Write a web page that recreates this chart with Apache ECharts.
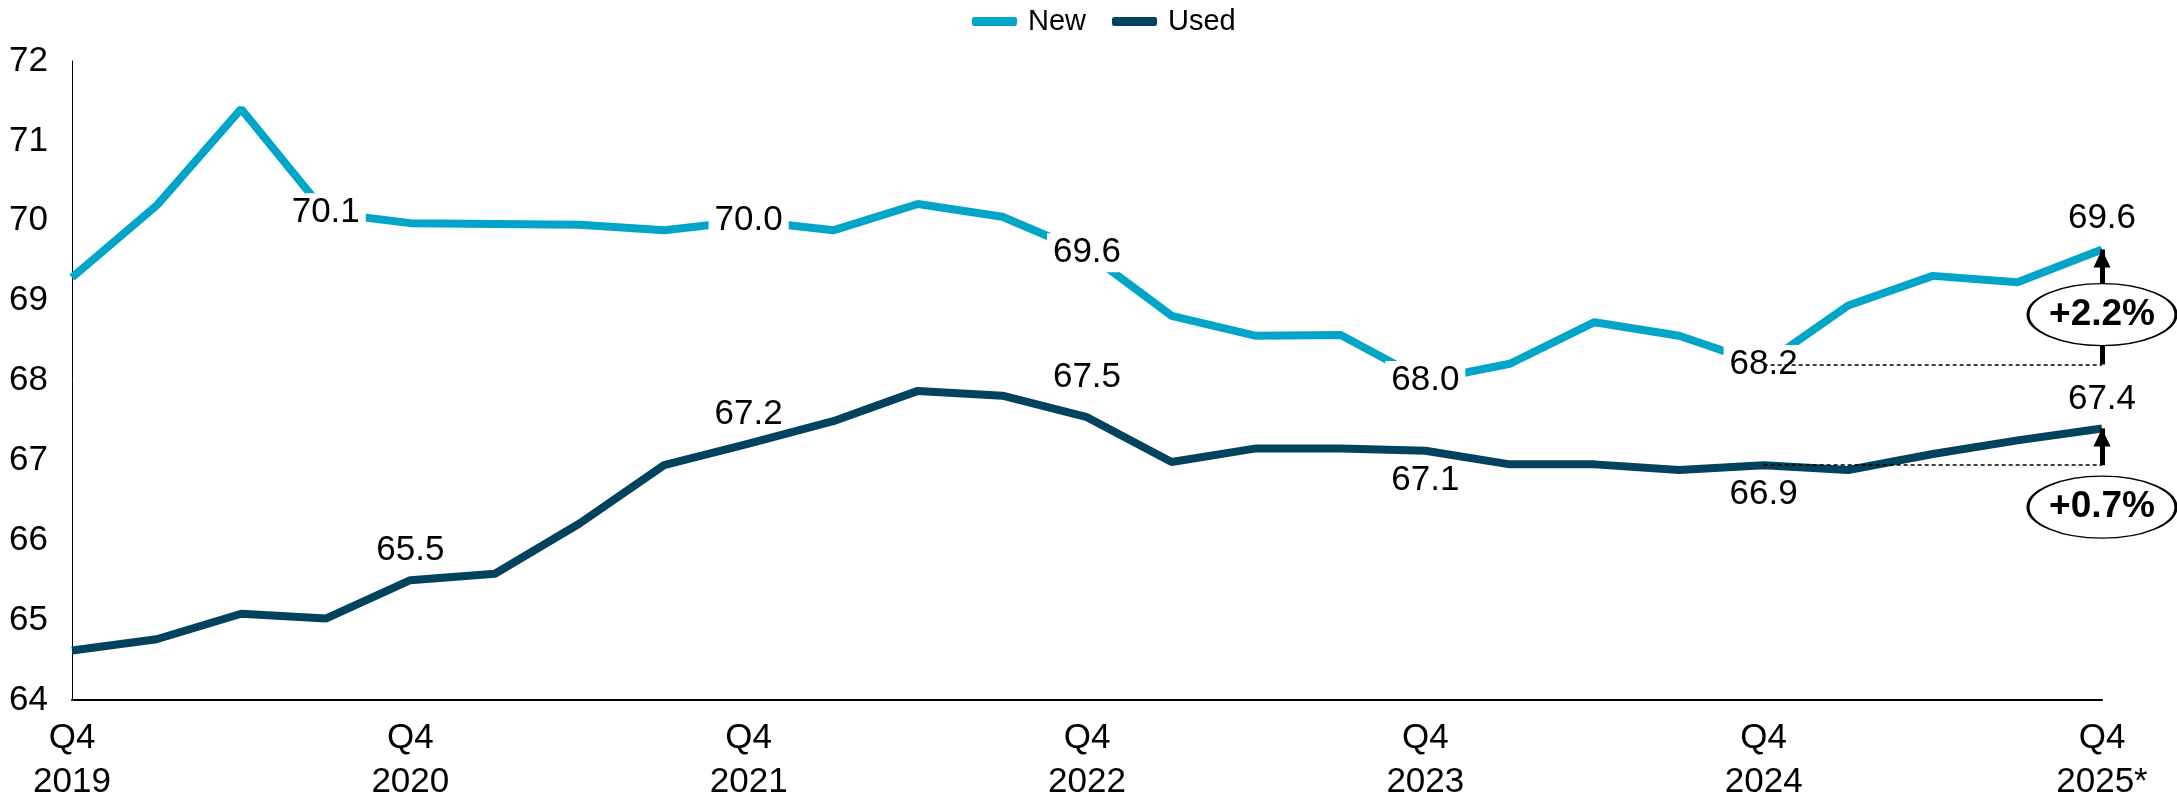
<!DOCTYPE html>
<html>
<head>
<meta charset="utf-8">
<style>
  html, body { margin: 0; padding: 0; background: #fff; }
  #chart { width: 2177px; height: 804px; }
</style>
<script src="https://cdn.jsdelivr.net/npm/echarts@6/dist/echarts.min.js"></script>
</head>
<body>
<div id="chart"></div>
<script>
// quarters, Q4 2019 .. Q4 2025
var quarters = [
  'Q4 2019', 'Q1 2020', 'Q2 2020', 'Q3 2020', 'Q4 2020',
  'Q1 2021', 'Q2 2021', 'Q3 2021', 'Q4 2021',
  'Q1 2022', 'Q2 2022', 'Q3 2022', 'Q4 2022',
  'Q1 2023', 'Q2 2023', 'Q3 2023', 'Q4 2023',
  'Q1 2024', 'Q2 2024', 'Q3 2024', 'Q4 2024',
  'Q1 2025', 'Q2 2025', 'Q3 2025', 'Q4 2025*'
];
var newValues = [
  69.29, 70.19, 71.40, 70.10, 69.97,
  69.96, 69.95, 69.88, 70.00,
  69.88, 70.21, 70.05, 69.60,
  68.81, 68.56, 68.57, 68.00,
  68.21, 68.73, 68.56, 68.20,
  68.94, 69.31, 69.23, 69.64
];
var usedValues = [
  64.62, 64.76, 65.08, 65.02, 65.50,
  65.58, 66.21, 66.94, 67.21,
  67.49, 67.87, 67.81, 67.54,
  66.98, 67.15, 67.15, 67.12,
  66.95, 66.95, 66.88, 66.94,
  66.88, 67.08, 67.25, 67.40
];
var newLabelled = [3, 8, 12, 16, 20, 24];
var usedLabelled = [4, 8, 12, 16, 20, 24];
var usedBelow = [16, 20];
var baseIndex = 20;
var lastIndex = 24;
var newChange = '+2.2%';
var usedChange = '+0.7%';
var yTicks = { min: 64, max: 72, step: 1 };

var FONT = '"Liberation Sans", Arial, sans-serif';
var ellipse = 'path://M0,31A73,31,0,1,1,146,31A73,31,0,1,1,0,31Z';

function labelText(p) {
  return Number(p.value).toFixed(1);
}

// New: labels sit on the line with a white box, last one above
function newData() {
  return newValues.map(function (v, i) {
    if (newLabelled.indexOf(i) < 0) return v;
    var onTop = i === lastIndex;
    return {
      value: v,
      label: {
        show: true,
        position: onTop ? 'top' : 'inside',
        distance: 12,
        formatter: labelText,
        backgroundColor: onTop ? 'transparent' : '#fff',
        padding: [2, 6]
      }
    };
  });
}

function usedData() {
  return usedValues.map(function (v, i) {
    if (usedLabelled.indexOf(i) < 0) return v;
    var below = usedBelow.indexOf(i) >= 0;
    return {
      value: v,
      label: {
        show: true,
        position: below ? 'bottom' : 'top',
        distance: i === 12 ? 22 : 12,
        formatter: labelText
      }
    };
  });
}

function changeMarks(values, change, ellipseOffset) {
  return {
    markLine: {
      silent: true,
      z: 5,
      label: { show: false },
      data: [
        [
          { coord: [baseIndex, values[baseIndex]], symbol: 'none',
            lineStyle: { type: [4, 3], width: 1.5, color: '#000' } },
          { coord: [lastIndex + 0.1, values[baseIndex]], symbol: 'none' }
        ],
        [
          { coord: [lastIndex, values[baseIndex]], symbol: 'none',
            lineStyle: { type: 'solid', width: 5, color: '#000' } },
          { coord: [lastIndex, values[lastIndex]], symbol: 'triangle',
            symbolSize: [17, 18], symbolOffset: [0, 9] }
        ]
      ]
    },
    markPoint: {
      silent: true,
      z: 10,
      data: [{
        coord: [lastIndex, values[baseIndex]],
        symbol: ellipse,
        symbolSize: [148, 62],
        symbolOffset: [0, ellipseOffset],
        itemStyle: { color: '#fff', borderColor: '#000', borderWidth: 2 },
        label: {
          show: true,
          position: 'inside',
          formatter: change,
          color: '#000',
          fontFamily: FONT,
          fontWeight: 'bold',
          fontSize: 37
        }
      }]
    }
  };
}

var chart = echarts.init(document.getElementById('chart'));

var common = {
  type: 'line',
  symbol: 'circle',
  symbolSize: 0,
  showSymbol: true,
  showAllSymbol: true,
  emphasis: { disabled: true },
  label: { color: '#000', fontSize: 35, fontFamily: FONT }
};

var newSeries = Object.assign({}, common, {
  name: 'New',
  data: newData(),
  z: 3,
  itemStyle: { color: '#00a5c8' },
  lineStyle: { width: 8, color: '#00a5c8' }
}, changeMarks(newValues, newChange, -50));

var usedSeries = Object.assign({}, common, {
  name: 'Used',
  data: usedData(),
  z: 2,
  itemStyle: { color: '#01425f' },
  lineStyle: { width: 8, color: '#01425f' }
}, changeMarks(usedValues, usedChange, 42));

var option = {
  backgroundColor: '#fff',
  animation: false,
  color: ['#00a5c8', '#01425f'],
  textStyle: { fontFamily: FONT },
  legend: {
    top: 2,
    left: 967,
    data: ['New', 'Used'],
    icon: 'roundRect',
    itemWidth: 45,
    itemHeight: 9,
    itemGap: 26,
    textStyle: { fontSize: 29, color: '#000', fontFamily: FONT, padding: [0, 0, 0, 6] }
  },
  grid: { left: 72, right: 75, top: 61, bottom: 104 },
  xAxis: {
    type: 'category',
    boundaryGap: false,
    data: quarters,
    axisLine: { lineStyle: { color: '#000', width: 2 } },
    axisTick: { show: false },
    axisLabel: {
      interval: 3,
      margin: 16,
      color: '#000',
      fontSize: 35,
      lineHeight: 44,
      fontFamily: FONT,
      formatter: function (v) {
        var parts = v.split(' ');
        return parts[0] + '\n' + parts[1];
      }
    },
    splitLine: { show: false }
  },
  yAxis: {
    type: 'value',
    min: yTicks.min,
    max: yTicks.max,
    interval: yTicks.step,
    axisLine: { show: true, lineStyle: { color: '#000', width: 1 } },
    axisTick: { show: false },
    axisLabel: { color: '#000', fontSize: 35, margin: 24, fontFamily: FONT },
    splitLine: { show: false }
  },
  series: [newSeries, usedSeries]
};

chart.setOption(option);
</script>
</body>
</html>
